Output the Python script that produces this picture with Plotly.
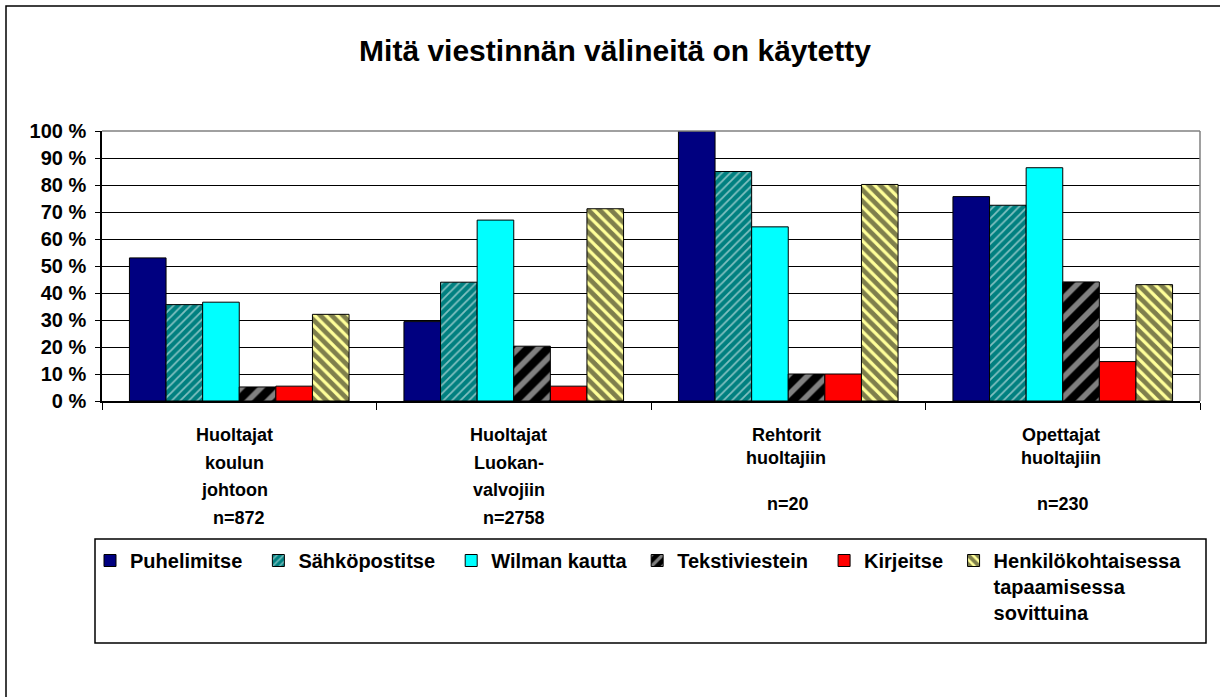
import plotly.graph_objects as go

# ---------------- data ----------------
categories = ["Huoltajat koulun johtoon", "Huoltajat Luokanvalvojiin",
              "Rehtorit huoltajiin", "Opettajat huoltajiin"]
category_lines = [["Huoltajat", "koulun", "johtoon"],
                  ["Huoltajat", "Luokan-", "valvojiin"],
                  ["Rehtorit", "huoltajiin"],
                  ["Opettajat", "huoltajiin"]]
n_labels = ["n=872", "n=2758", "n=20", "n=230"]

puhelimitse = [53.0, 29.4, 100.0, 75.7]
sahkopostitse = [35.7, 44.0, 85.0, 72.5]
wilman_kautta = [36.6, 67.0, 64.5, 86.4]
tekstiviestein = [5.2, 20.3, 10.0, 44.1]
kirjeitse = [5.5, 5.5, 10.0, 14.6]
henkilokohtaisessa = [32.1, 71.2, 80.2, 43.1]

series_names = ["Puhelimitse", "Sähköpostitse", "Wilman kautta", "Tekstiviestein",
                "Kirjeitse", "Henkilökohtaisessa<br>tapaamisessa<br>sovittuina"]
series_values = [puhelimitse, sahkopostitse, wilman_kautta, tekstiviestein,
                 kirjeitse, henkilokohtaisessa]

y_ticks = [0, 10, 20, 30, 40, 50, 60, 70, 80, 90, 100]
y_tick_labels = ["0 %", "10 %", "20 %", "30 %", "40 %", "50 %", "60 %",
                 "70 %", "80 %", "90 %", "100 %"]

title_text = "Mitä viestinnän välineitä on käytetty"

# ---------------- styles ----------------
FONT = "Liberation Sans, Arial, sans-serif"
NB = "\u00a0"
legend_pad = [2, 2, 1, 2, 1, 0]  # trailing spacing in legend entries
styles = [
    dict(color="#000080"),
    dict(color="#008080", pattern=dict(shape="/", fgcolor="white", size=6,
                                       solidity=0.3, fillmode="overlay")),
    dict(color="#00FFFF"),
    dict(color="#000000", pattern=dict(shape="/", fgcolor="white", size=14,
                                       solidity=0.4, fillmode="overlay")),
    dict(color="#FF0000"),
    dict(color="#FFFF99", pattern=dict(shape="\\", fgcolor="black", size=8,
                                       solidity=0.6, fillmode="overlay")),
]

W, H = 1220, 697
PL, PR, PT, PB = 102, 1200, 131, 401  # plot area in pixels


def py(p):  # pixel y -> paper y
    return (PB - p) / (PB - PT)


def px(p):  # pixel x -> paper x
    return (p - PL) / (PR - PL)


fig = go.Figure()
for name, vals, st, pad in zip(series_names, series_values, styles, legend_pad):
    marker = dict(color=st["color"], line=dict(color="black", width=1))
    if "pattern" in st:
        marker["pattern"] = st["pattern"]
    fig.add_trace(go.Bar(x=categories, y=vals, name=name + NB * pad,
                         marker=marker))

# category labels
annotations = []
for cat, lines, nlab in zip(categories, category_lines, n_labels):
    if len(lines) == 3:
        ys = [435, 463, 490]
        ny = 518
        shift = -5
    else:
        ys = [435, 458]
        ny = 504
        shift = -2
    for ln, yy in zip(lines, ys):
        annotations.append(dict(x=cat, xref="x", y=py(yy), yref="paper",
                                text=ln, showarrow=False, yanchor="middle",
                                xshift=shift,
                                font=dict(family=FONT, size=18, color="black",
                                          weight="bold")))
    annotations.append(dict(x=cat, xref="x", y=py(ny), yref="paper",
                            text=nlab, showarrow=False, yanchor="middle",
                            font=dict(family=FONT, size=18, color="black",
                                      weight="bold")))

shapes = [
    # outer chart border
    dict(type="rect", xref="paper", yref="paper", x0=px(6), x1=px(1226),
         y0=py(704), y1=py(6), line=dict(color="black", width=1.5)),
    # legend box
    dict(type="rect", xref="paper", yref="paper", x0=px(95), x1=px(1206),
         y0=py(643), y1=py(539), line=dict(color="black", width=1.5)),
    # plot area right / top border
    dict(type="line", xref="paper", yref="paper", x0=1, x1=1, y0=0, y1=1,
         line=dict(color="#808080", width=1.5)),
    dict(type="line", xref="paper", yref="paper", x0=0, x1=1, y0=1, y1=1,
         line=dict(color="#808080", width=1.5)),
]

fig.update_layout(
    width=W, height=H, autosize=False,
    margin=dict(l=PL, r=W - PR, t=PT, b=H - PB, pad=0),
    paper_bgcolor="white", plot_bgcolor="white",
    barmode="group", bargap=0.2, bargroupgap=0,
    title=dict(text=title_text, x=615 / W, xref="container", xanchor="center",
               y=1 - 50 / H, yref="container", yanchor="middle",
               font=dict(family=FONT, size=30, color="black", weight="bold")),
    font=dict(family=FONT, color="black"),
    showlegend=True,
    legend=dict(orientation="h", xref="container", yref="container",
                x=90 / W, y=1 - 541 / H, xanchor="left", yanchor="top",
                font=dict(family=FONT, size=20, color="black", weight="bold"),
                bgcolor="rgba(0,0,0,0)", borderwidth=0, traceorder="normal",
                valign="top"),
    annotations=annotations,
    shapes=shapes,
)
fig.update_xaxes(type="category", tickson="boundaries", ticks="outside",
                 ticklen=7, tickcolor="black", showticklabels=False,
                 showline=True, linecolor="black", linewidth=1.5,
                 showgrid=False, zeroline=False)
fig.update_yaxes(range=[0, 100], tickvals=y_ticks, ticktext=y_tick_labels,
                 ticks="outside", ticklen=5, tickcolor="black",
                 ticklabelstandoff=5,
                 tickfont=dict(family=FONT, size=20, color="black", weight="bold"),
                 showline=True, linecolor="black", linewidth=1.5,
                 showgrid=True, gridcolor="black", gridwidth=1, zeroline=False)

fig.write_html("out.html", config={"displayModeBar": False},
               post_script="document.body.style.margin='0';"
                           "document.body.style.overflow='hidden';")
